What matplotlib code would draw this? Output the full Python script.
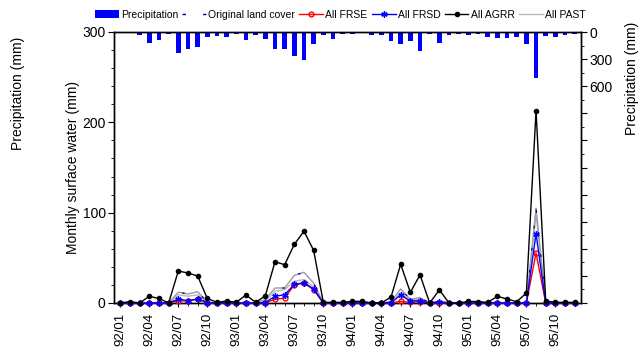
import matplotlib
matplotlib.use("Agg")
import matplotlib.pyplot as plt
from matplotlib.lines import Line2D
from matplotlib.patches import Patch
from matplotlib.ticker import MultipleLocator, FixedLocator

plt.rcParams['font.family'] = ['Liberation Sans', 'DejaVu Sans']

months = [f"{y:02d}/{m:02d}" for y in range(92, 96) for m in range(1, 13)]

precip = [15, 15, 37, 118, 85, 18, 237, 189, 167, 59, 44, 59,
          18, 85, 37, 74, 185, 185, 266, 311, 133, 37, 74, 26,
          22, 5, 37, 37, 104, 133, 96, 215, 18, 118, 37, 22,
          30, 22, 52, 67, 67, 52, 133, 514, 44, 52, 37, 22]

agrr = [0, 1.5, 0, 7.4, 5, 0, 35.4, 33.2, 29.9, 5, 0.7, 2.2,
        0.7, 8.9, 0.7, 8, 45.7, 42.4, 64.9, 79.5, 58.2, 0.7, 0.7, 0.7,
        1.8, 1.8, 0, 0, 6.6, 42.8, 11.8, 31.2, 0, 14.5, 0, 0,
        1.8, 1.5, 0.7, 7.4, 4.4, 1.5, 11, 213, 2.2, 0.7, 0.7, 0.7]

frse = [0, 0, 0, 0, 0, 0, 2.5, 2.2, 4.4, 0.5, 0, 0,
        0, 0, 0, 0.3, 4, 5.5, 20, 22, 14.7, 0, 0, 0,
        0, 0, 0, 0, 0.3, 1.8, 0.7, 1.5, 0, 0.5, 0, 0,
        0, 0, 0, 0, 0, 0, 0, 55.4, 0, 0, 0, 0]

frsd = [0, 0, 0, 0, 0, 0, 4.4, 2.5, 4.4, 0.5, 0, 0,
        0, 0, 0, 0.5, 7.4, 9.2, 20.5, 22.5, 15.5, 0, 0, 0,
        0, 0, 0, 0, 0.5, 8.8, 2.2, 2.6, 0, 1.5, 0, 0,
        0, 0, 0, 0, 0, 0, 0, 76.7, 0, 0, 0, 0]

original = [0, 0, 0, 0, 0, 0, 12, 10, 12.5, 1, 0, 0,
            0, 1, 0, 4, 16.6, 16.6, 30.6, 34, 22, 0, 0, 0,
            0, 0, 0, 0, 1.5, 15.5, 4, 6, 0, 2, 0, 0,
            0, 0, 0, 1, 0, 0, 0.5, 105, 0, 0, 0, 0]

past = [0, 0, 0, 0, 0, 0, 9, 7.5, 9, 0.5, 0, 0,
        0, 0.5, 0, 2, 13, 14.8, 24, 26, 18, 0, 0, 0,
        0, 0, 0, 0, 1, 11, 3, 4.5, 0, 1.5, 0, 0,
        0, 0, 0, 0.5, 0, 0, 0.3, 98, 0, 0, 0, 0]

x = list(range(len(months)))

fig = plt.figure(figsize=(6.44, 3.52), dpi=100)
ax = fig.add_axes([114/644, 1-303/352, (581-114)/644, (303-32)/352])
ax2 = ax.twinx()
ax.set_zorder(ax2.get_zorder() + 1)
ax.patch.set_visible(False)

# precipitation bars (right axis, inverted)
ax2.bar(x, precip, width=0.5, color='#0000ff', edgecolor='none')
ax2.set_ylim(3000, 0)
ax2.yaxis.set_minor_locator(MultipleLocator(150))
ax2.set_yticks(list(range(0, 3001, 300)))
ax2.set_yticklabels(['0', '300', '600'] + [''] * 8)
ax2.tick_params(axis='y', which='major', direction='out', length=4, labelsize=10, pad=2)
ax2.tick_params(axis='y', which='minor', direction='out', length=2)

lw = 1.0
ax.plot(x, past, color='#b8b8b8', lw=lw, clip_on=False, zorder=2)
ax.plot(x, original, color='#000080', lw=lw, linestyle=(0, (2, 14)),
        gapcolor='#9a9aa8', clip_on=False, zorder=2.1)
ax.plot(x, frse, color='#ff0000', lw=lw, marker='o', ms=3.5, mfc='none',
        mec='#ff0000', mew=1.0, clip_on=False, zorder=3)
ax.plot(x, frsd, color='#0000ff', lw=lw, marker=(6, 2, 0), ms=4.5,
        mec='#0000ff', mew=1.0, clip_on=False, zorder=4)
ax.plot(x, agrr, color='#000000', lw=lw, marker='o', ms=3, mfc='#000000',
        mec='#000000', clip_on=False, zorder=5)

ax.set_xlim(-0.65, 47.65)
ax.set_ylim(0, 300)
ax.yaxis.set_major_locator(MultipleLocator(100))
ax.yaxis.set_minor_locator(MultipleLocator(20))
ax.tick_params(axis='y', which='major', direction='out', length=4, labelsize=10, pad=2)
ax.tick_params(axis='y', which='minor', direction='out', length=2)

ax.xaxis.set_major_locator(FixedLocator(x[::3]))
ax.xaxis.set_minor_locator(FixedLocator(x))
ax.set_xticklabels(months[::3], rotation=90, fontsize=9.5)
ax.tick_params(axis='x', which='major', direction='out', length=3, pad=4)
ax.tick_params(axis='x', which='minor', direction='out', length=2)
ax2.set_xlim(-0.65, 47.65)

ax.set_ylabel('Monthly surface water (mm)', fontsize=10, labelpad=2)
fig.text(632/644, 1-78/352, 'Precipitation (mm)', rotation=90, ha='center', va='center', fontsize=10)
fig.text(18/644, 1-93/352, 'Precipitation (mm)', rotation=90, ha='center', va='center', fontsize=10)

for a in (ax, ax2):
    for s in a.spines.values():
        s.set_linewidth(1.0)

handles = [
    Patch(facecolor='#0000ff', edgecolor='none'),
    Line2D([], [], color='#000080', lw=lw, linestyle=(0, (2.5, 12.3))),
    Line2D([], [], color='#ff0000', lw=lw, marker='o', ms=3.5, mfc='none', mec='#ff0000'),
    Line2D([], [], color='#0000ff', lw=lw, marker=(6, 2, 0), ms=4.5, mec='#0000ff'),
    Line2D([], [], color='#000000', lw=lw, marker='o', ms=3, mfc='#000000'),
    Line2D([], [], color='#b8b8b8', lw=lw),
]
labels = ['Precipitation', 'Original land cover', 'All FRSE', 'All FRSD', 'All AGRR', 'All PAST']
fig.legend(handles, labels, loc='center', bbox_to_anchor=(340/644, 1-14.5/352),
           ncol=6, frameon=False, fontsize=7.5, handlelength=2.3, handletextpad=0.2,
           columnspacing=0.4, handleheight=0.7)

fig.savefig('out.png', dpi=100)
